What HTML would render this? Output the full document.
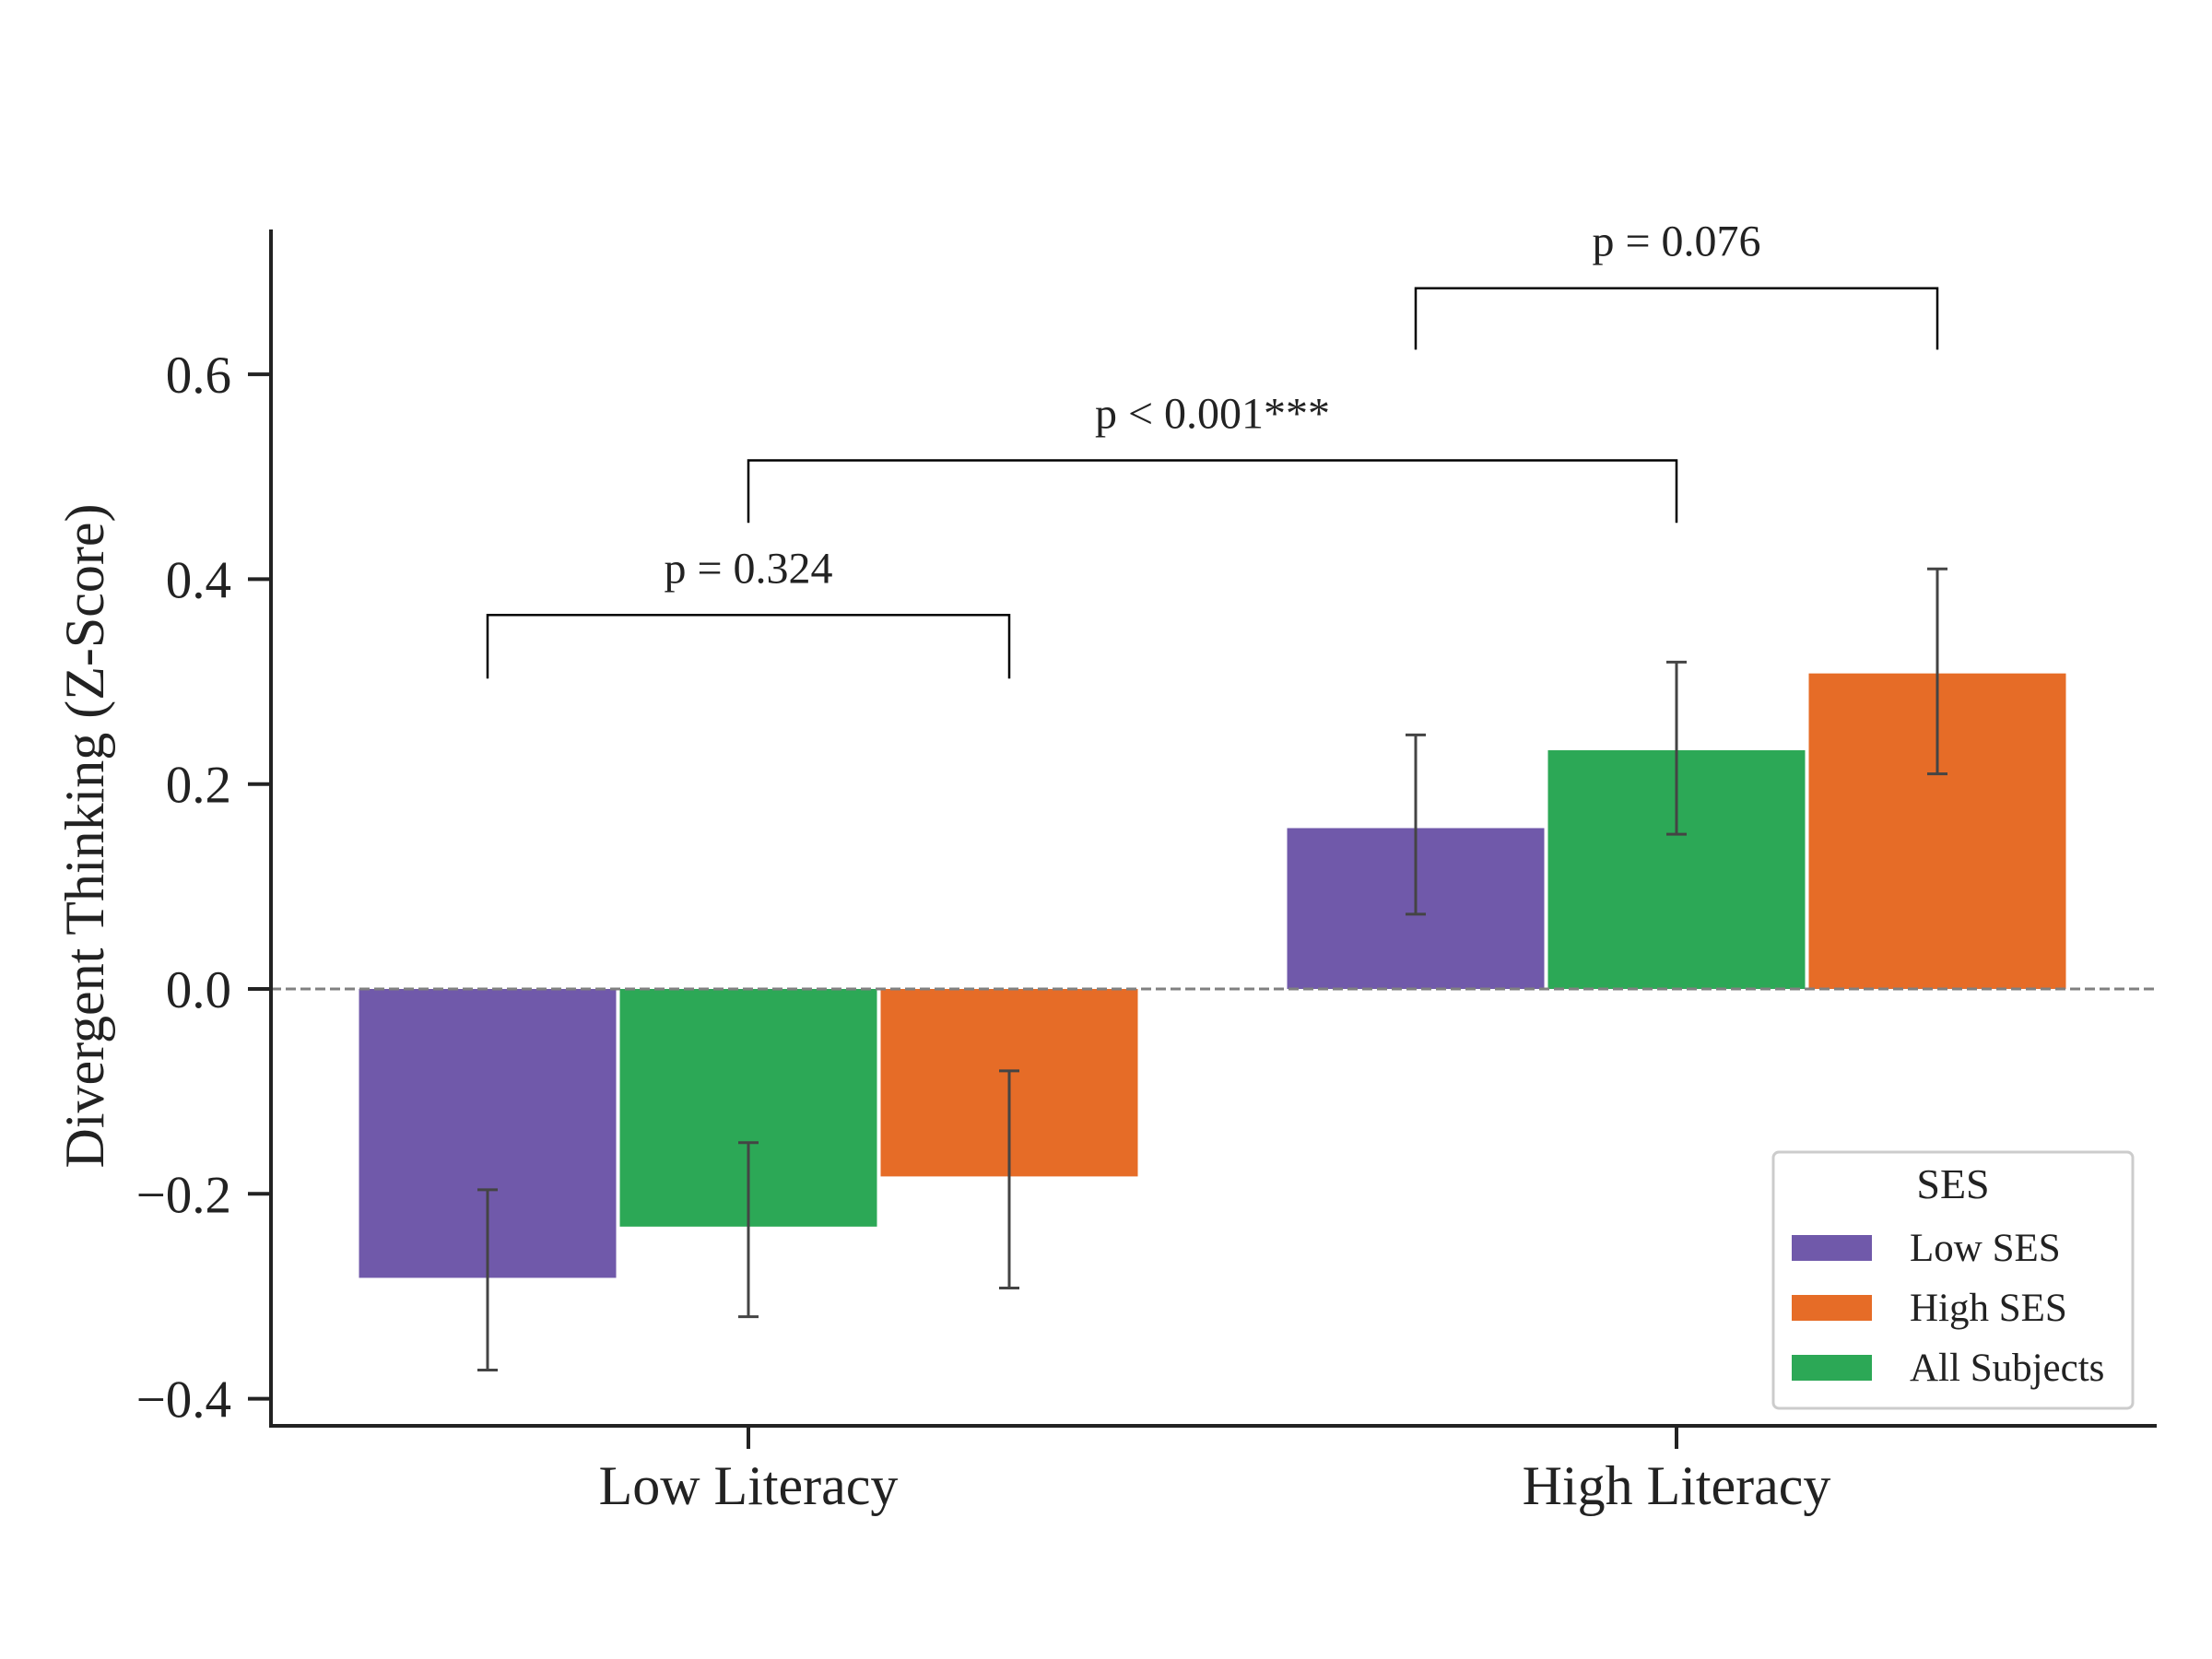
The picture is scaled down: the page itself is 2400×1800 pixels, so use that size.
<!DOCTYPE html>
<html><head><meta charset="utf-8"><style>
html,body{margin:0;padding:0;background:#fff;}
svg{display:block;font-family:"Liberation Serif","Times New Roman",serif;}
</style></head><body>
<svg id="chart" width="2400" height="1800" viewBox="0 0 2400 1800" xmlns="http://www.w3.org/2000/svg"></svg>
<script>
const categories = ["Low Literacy", "High Literacy"];
const seriesNames = ["Low SES", "All Subjects", "High SES"];
const seriesColors = ["#7059aa", "#2ca856", "#e66c27"];
const lowSesValues = [-0.282, 0.157];
const allValues = [-0.232, 0.233];
const highSesValues = [-0.183, 0.308];
const lowSesErrLo = [-0.372, 0.073];
const lowSesErrHi = [-0.196, 0.248];
const allErrLo = [-0.320, 0.151];
const allErrHi = [-0.150, 0.319];
const highSesErrLo = [-0.292, 0.210];
const highSesErrHi = [-0.080, 0.410];
const yTicks = [-0.4, -0.2, 0.0, 0.2, 0.4, 0.6];
const yTickLabels = ["\u22120.4", "\u22120.2", "0.0", "0.2", "0.4", "0.6"];
const bracketLabels = ["p = 0.324", "p < 0.001***", "p = 0.076"];
const bracketHeights = [0.365, 0.516, 0.684];
const bracketLegBottoms = [0.303, 0.455, 0.624];
const legendOrder = ["Low SES", "High SES", "All Subjects"];

const NS = "http://www.w3.org/2000/svg";
const svg = document.getElementById("chart");
const X0 = 294, X1 = 2340, YTOP = 249, YBOT = 1547;
const Y_ZERO = 1073, PX_PER_UNIT = 1111.5;
function y(v){ return Y_ZERO - v * PX_PER_UNIT; }
const catCenters = [812, 1819];
function xc(i){ return catCenters[i]; }
const barW = 279, barStep = 283;
function mk(tag, attrs, parent){
  const e = document.createElementNS(NS, tag);
  for (const k in attrs) e.setAttribute(k, attrs[k]);
  (parent || svg).appendChild(e);
  return e;
}

const values = [lowSesValues, allValues, highSesValues];
const errLo = [lowSesErrLo, allErrLo, highSesErrLo];
const errHi = [lowSesErrHi, allErrHi, highSesErrHi];

for (let s = 0; s < 3; s++) {
  for (let c = 0; c < categories.length; c++) {
    const cx = xc(c) + (s - 1) * barStep;
    const v = values[s][c];
    const r = mk("rect", {x: cx - barW/2, y: Math.min(y(v), y(0)), width: barW, height: Math.abs(y(v) - y(0)), fill: seriesColors[s]});
    
    
  }
}
const zl = mk("line", {x1: X0, x2: X1, y1: y(0), y2: y(0), stroke: "#808080", "stroke-width": 3, "stroke-dasharray": "11 5"});


for (let s = 0; s < 3; s++) {
  for (let c = 0; c < categories.length; c++) {
    const cx = xc(c) + (s - 1) * barStep;
    const g = mk("g", {stroke: "#444", "stroke-width": 3});
    
    
    mk("line", {x1: cx, x2: cx, y1: y(errLo[s][c]), y2: y(errHi[s][c])}, g);
    mk("line", {x1: cx-11, x2: cx+11, y1: y(errLo[s][c]), y2: y(errLo[s][c])}, g);
    mk("line", {x1: cx-11, x2: cx+11, y1: y(errHi[s][c]), y2: y(errHi[s][c])}, g);
  }
}
const ya = mk("line", {x1: X0, x2: X0, y1: YTOP, y2: YBOT + 2, stroke: "#222", "stroke-width": 4});


const xa = mk("line", {x1: X0 - 2, x2: X1, y1: YBOT, y2: YBOT, stroke: "#222", "stroke-width": 4});


for (let i = 0; i < yTicks.length; i++) {
  const t = mk("line", {x1: X0 - 25, x2: X0, y1: y(yTicks[i]), y2: y(yTicks[i]), stroke: "#222", "stroke-width": 4});
  
  
  const l = mk("text", {x: 251, y: y(yTicks[i]) + 20, "text-anchor": "end", "font-size": 57, fill: "#222"});
  l.textContent = yTickLabels[i];
  
  
}
for (let c = 0; c < categories.length; c++) {
  const t = mk("line", {x1: xc(c), x2: xc(c), y1: YBOT, y2: YBOT + 25, stroke: "#222", "stroke-width": 4});
  
  
  const l = mk("text", {x: xc(c), y: 1632, "text-anchor": "middle", "font-size": 60, fill: "#222"});
  l.textContent = categories[c];
  
  
}
const yl = mk("text", {x: 0, y: 0, "text-anchor": "middle", "font-size": 60, fill: "#222", transform: "translate(112,907) rotate(-90)"});
yl.textContent = "Divergent Thinking (Z-Score)";



const bracketPairs = [[[0,0],[0,2]], [[0,1],[1,1]], [[1,0],[1,2]]];
for (let b = 0; b < bracketPairs.length; b++) {
  const [a, e] = bracketPairs[b];
  const xa1 = xc(a[0]) + (a[1] - 1) * barStep;
  const xb1 = xc(e[0]) + (e[1] - 1) * barStep;
  const yh = y(bracketHeights[b]), yb = y(bracketLegBottoms[b]);
  const p = mk("polyline", {points: `${xa1},${yb} ${xa1},${yh} ${xb1},${yh} ${xb1},${yb}`, fill: "none", stroke: "#000", "stroke-width": 2.5});
  
  
  const t = mk("text", {x: (xa1 + xb1) / 2, y: yh - 35, "text-anchor": "middle", "font-size": 48, fill: "#222"});
  t.textContent = bracketLabels[b];
  
  
}

const lg = mk("g", {});


mk("rect", {x: 1924, y: 1250, width: 390, height: 278, rx: 6, fill: "#fff", stroke: "#ccc", "stroke-width": 3}, lg);
const lt = mk("text", {x: 2119, y: 1300, "text-anchor": "middle", "font-size": 46, fill: "#222"}, lg);
lt.textContent = "SES";


for (let i = 0; i < legendOrder.length; i++) {
  const si = seriesNames.indexOf(legendOrder[i]);
  const cy = 1354 + i * 65;
  const sw = mk("rect", {x: 1944, y: cy - 14, width: 87, height: 28, fill: seriesColors[si]}, lg);
  
  
  const tx = mk("text", {x: 2072, y: cy + 14, "font-size": 43, fill: "#222"}, lg);
  tx.textContent = legendOrder[i];
  
  
}
</script>
</body></html>
